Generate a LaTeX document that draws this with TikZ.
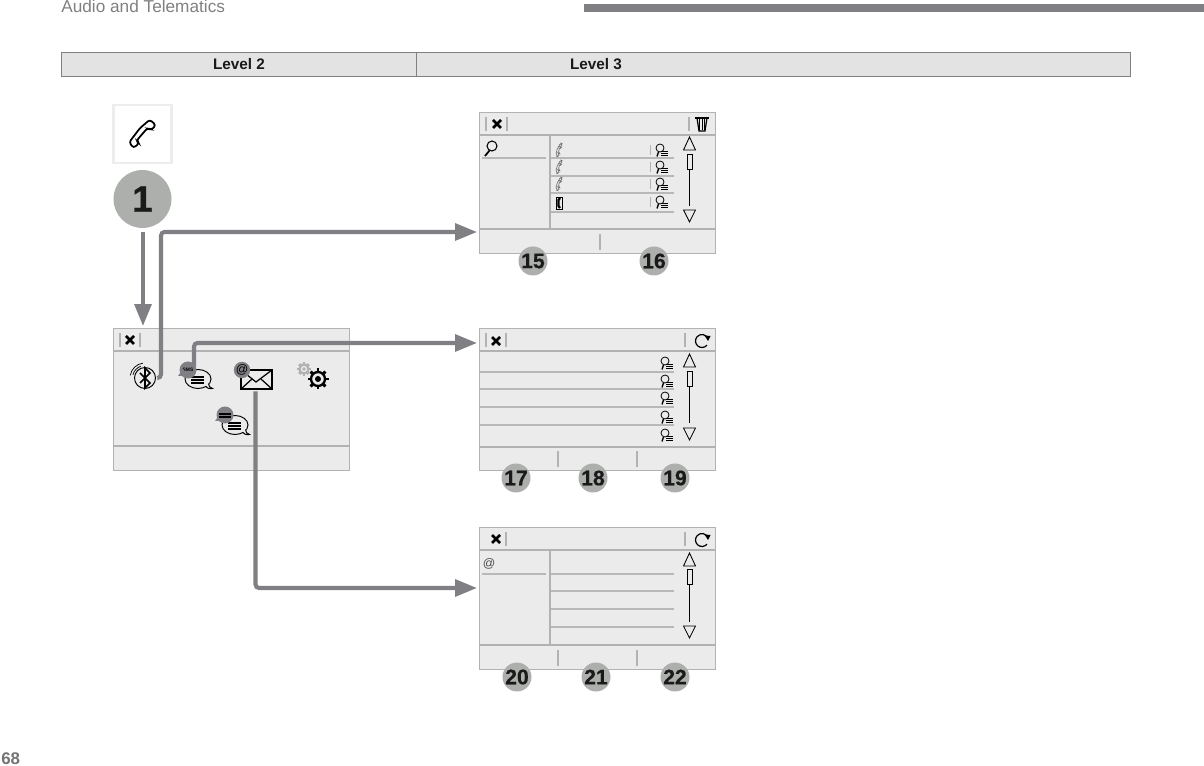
\documentclass[tikz,border=0pt]{standalone}
\usepackage{fontspec}
\setmainfont{Liberation Sans}
\newfontfamily\badgefont[BoldFeatures={FakeBold=0.6}]{Liberation Sans}
\usetikzlibrary{arrows.meta}
\usetikzlibrary{positioning}
\usetikzlibrary{calc}

\definecolor{screenfill}{HTML}{EBEBEB}
\definecolor{screenline}{HTML}{B2B2B2}
\definecolor{rowline}{HTML}{B8B8B8}
\definecolor{flowgray}{HTML}{808084}
\definecolor{badgegray}{HTML}{ADAFAD}
\definecolor{inkdark}{HTML}{1A1A1A}

\tikzset{
  screen/.style={draw=screenline, line width=0.8pt, fill=screenfill, minimum width=235.5*0.02cm, minimum height=142*0.02cm, inner sep=0pt},
  sepline/.style={draw=screenline, line width=0.8pt},
  rowrule/.style={draw=rowline, line width=0.8pt},
  tickline/.style={draw=screenline, line width=0.6pt},
  badge/.style={circle, fill=badgegray, minimum size=29*0.02cm, inner sep=0pt, text=inkdark, font=\badgefont\bfseries\fontsize{12}{12}\selectfont},
  flow/.style={draw=flowgray, line width=2.3pt, rounded corners=2pt, -{Triangle[length=12.5pt, width=9.5pt]}},
  iconbox/.style={minimum size=24*0.02cm, inner sep=0pt},
  headcell/.style={draw=flowgray, line width=0.6pt, fill=black!11, minimum height=24*0.02cm, inner sep=0pt, text=inkdark, font=\bfseries\fontsize{8.7}{8.7}\selectfont},
  icon/.style={draw=black, line width=0.55pt},
  pics/closex/.style={code={
    \draw[black, line width=1.5pt] (-4, -4) -- (4, 4) (-4, 4) -- (4, -4);
  }},
  pics/lensmark/.style={code={
    \draw[black, line width=0.45pt] (-2, -2) circle (4);
    \draw[black, line width=0.8pt] (-3.5, 2) -- (-5, 6.5);
    \foreach \i in {1.5, 3.5, 5.5}{
      \draw[black, line width=0.4pt] (-1, \i) -- (6, \i);
    }
  }},
  pics/handset/.style={code={
    \draw[#1] [rounded corners=1] (1.5, -7) -- (3.5, -6) -- (2, -2.5) -- (0.8, -3) -- (-0.8, 3) -- (0.5, 3.6) -- (-0.5, 7) -- (-3, 6) -- (-2.5, 0.5) -- cycle;
  }},
  pics/refreshmark/.style={code={
    \draw[black, line width=0.7pt] (40:6.5) arc (40:315:6.5);
    \fill[black] (2.5, -5.5) -- (8.5, -5) -- (6, 0) -- cycle;
  }},
  pics/bubble/.style={code={
    \draw[icon] (0, 0) ellipse (13 and 9.5);
    \fill[screenfill] (5, 6) -- (11, 4) -- (11, 8) -- cycle;
    \draw[icon] (10.5, 4.5) .. controls (10.5, 7) and (12, 9) .. (14.5, 9.5) .. controls (11, 10) and (9, 9) .. (7.5, 7.5);
    \foreach \i in {-2, 1, 4}{
      \draw[black, line width=0.85pt] (-7, \i) -- (6, \i);
    }
  }},
  pics/gearmark/.style={code={
    \draw[#1, line width=1.3pt] (0, 0) circle (7);
    \foreach \a in {0, 45, ..., 315}{
      \draw[#1, line width=1.7pt] (\a:7) -- (\a:10.5);
    }
    \fill[#1] (0, 0) circle (3);
  }},
  pics/scrollbar/.style args={#1/#2/#3/#4}{code={
    \draw[black, line width=0.5pt] (-6, #1 + 13) -- (0, #1) -- (6, #1 + 13) -- cycle;
    \draw[black, line width=0.5pt] (-2.5, #2) rectangle (2.5, #2 + 15);
    \draw[black, line width=0.6pt] (0, #2 + 15) -- (0, #3);
    \draw[black, line width=0.5pt] (-6, #4 - 12) -- (0, #4) -- (6, #4 - 12) -- cycle;
  }}
}

\begin{document}
\begin{tikzpicture}[x=0.02cm, y=-0.02cm]
      \useasboundingbox (0, 0) rectangle (1204, 766);

      \node[anchor=base west, text=black!50, font=\fontsize{9.8}{9.8}\selectfont, inner sep=0pt] (chapter) at (61, 13) {Audio and Telematics};
      \fill[flowgray] (584, 4) rectangle (1204, 12);
      \node[anchor=base west, text=black!55, font=\bfseries\fontsize{9.6}{9.6}\selectfont, inner sep=0pt] (pagenum) at (1, 764) {68};

      \node[headcell, minimum width=355*0.02cm, anchor=north west] (levelb) at (61, 52) {Level 2};
      \node[headcell, minimum width=714*0.02cm, anchor=north west] (levelc) at (416, 52) {};
      \node[text=inkdark, font=\bfseries\fontsize{8.7}{8.7}\selectfont, inner sep=0pt] (levelctext) at (596, 64) {Level 3};

      \node[draw=black!7, line width=1.2pt, minimum size=58*0.02cm, inner sep=0pt] (phonekey) at (142.5, 134) {};
      \draw[black, line width=1pt, rounded corners=1.5, shift={(phonekey.center)}] (7.3, -14.3) -- (13.3, -9) -- (9, -4) -- (5, -6) -- (-6, 6.7) -- (-3.3, 9.3) -- (-9, 14) -- (-13.3, 8.3) -- (-2.7, -5.7) -- cycle;
      \node[badge, minimum size=58*0.02cm, font=\badgefont\bfseries\fontsize{21}{21}\selectfont] (keyone) at (142.5, 199) {1};

      \node[screen, anchor=north west] (menu) at (113, 328) {};
      \node[screen, anchor=north west, minimum height=141*0.02cm, minimum width=236*0.02cm] (contacts) at (479, 112) {};
      \node[screen, anchor=north west, minimum width=236*0.02cm] (sms) at (479, 328) {};
      \node[screen, anchor=north west, minimum width=236*0.02cm] (mail) at (479, 527) {};

      \draw[sepline] (113, 351) -- (348.5, 351);
      \draw[sepline] (113, 446) -- (348.5, 446);
      \draw[sepline] (479, 135) -- (715, 135);
      \draw[sepline] (479, 229) -- (715, 229);
      \draw[sepline] (550, 135) -- (550, 229);
      \draw[sepline] (479, 351) -- (715, 351);
      \draw[sepline] (479, 447) -- (715, 447);
      \draw[sepline] (479, 550) -- (715, 550);
      \draw[sepline] (479, 645) -- (715, 645);
      \draw[sepline] (550, 550) -- (550, 645);

      \foreach \i in {158, 176, 193, 212}{
        \draw[rowrule] (551, \i) -- (674, \i);
      }
      \draw[rowrule] (482, 158) -- (546, 158);
      \foreach \i in {372, 389, 407, 425}{
        \draw[rowrule] (480, \i) -- (674, \i);
      }
      \foreach \i in {574, 591, 609, 627}{
        \draw[rowrule] (551, \i) -- (674, \i);
      }
      \draw[rowrule] (482, 574) -- (546, 574);

      \foreach \i in {120, 140}{
        \draw[tickline] (\i, 333) -- (\i, 347);
      }
      \foreach \i in {486, 507, 689}{
        \draw[tickline] (\i, 117) -- (\i, 131);
      }
      \foreach \i in {486, 506, 685}{
        \draw[tickline] (\i, 333) -- (\i, 347);
      }
      \foreach \i in {506, 685}{
        \draw[tickline] (\i, 532) -- (\i, 546);
      }
      \draw[tickline] (600, 234) -- (600, 250);
      \foreach \i in {558, 637}{
        \draw[tickline] (\i, 451) -- (\i, 467);
        \draw[tickline] (\i, 650) -- (\i, 666);
      }

      \pic at (130, 340) {closex};
      \pic at (497, 124) {closex};
      \pic at (496, 341) {closex};
      \pic at (496, 539) {closex};

      \draw[black, line width=0.7pt] (695, 118) -- (709, 118);
      \draw[black, line width=0.7pt] (697, 118) -- (699, 131) -- (705, 131) -- (707, 118);
      \foreach \i in {699.5, 702, 704.5}{
        \draw[black, line width=0.5pt] (\i, 119) -- (\i, 130);
      }
      \pic at (702, 341) {refreshmark};
      \pic at (702, 540) {refreshmark};

      \pic at (689.5, 0) {scrollbar={137/154/206/222}};
      \pic at (689.5, 0) {scrollbar={354/371/423/440}};
      \pic at (689.5, 0) {scrollbar={553/569/622/638}};

      \draw[icon, line width=0.6pt] (492, 146) circle (5);
      \draw[icon, line width=1pt] (489.5, 150.5) -- (485, 156);
      \foreach \i in {150, 167, 184}{
        \pic at (559, \i) {handset={draw=black!55, line width=0.4pt}};
      }
      \draw[black, line width=0.4pt] (556, 197) rectangle (562, 209);
      \draw[black, line width=1.3pt] (560, 198) -- (558.5, 200) -- (558.5, 206) -- (560, 208);
      \foreach \i in {150, 167, 184, 202}{
        \draw[tickline] (650.5, \i - 5) -- (650.5, \i + 5);
        \pic at (662, \i) {lensmark};
      }
      \foreach \i in {363, 381, 398, 417, 435}{
        \pic at (667, \i) {lensmark};
      }
      \node[text=black!70, font=\fontsize{7}{7}\selectfont, inner sep=0pt] (mailat) at (489, 564) {@};

      \node[iconbox] (bticon) at (145, 378) {};
      \draw[icon] (bticon.center) circle (10.5);
      \draw[black, line width=0.9pt] (140, 373) -- (150, 383) -- (145, 388) -- (145, 368) -- (150, 373) -- (140, 383);
      \draw[icon, line width=0.4pt] (bticon.center) ++(190:15) arc (190:262:15);
      \draw[icon, line width=0.4pt] (bticon.center) ++(195:12.5) arc (195:250:12.5);

      \node[iconbox] (smsicon) at (198, 379) {};
      \pic at (smsicon.center) {bubble};
      \node[circle, fill=flowgray, minimum size=17*0.02cm, inner sep=0pt, text=black, font=\bfseries\fontsize{2.8}{2.8}\selectfont] (smstag) at (188, 370) {SMS};
      \fill[flowgray] (178, 376) -- (183, 369) -- (188, 376) -- cycle;

      \node[iconbox] (mailicon) at (256, 379) {};
      \draw[icon, line width=0.7pt] (241, 370) rectangle (272, 389);
      \draw[icon, line width=0.7pt] (241, 370) -- (256, 382) -- (272, 370);
      \draw[icon, line width=0.7pt] (241, 389) -- (252, 379) (272, 389) -- (261, 379);
      \node[circle, fill=flowgray, minimum size=15*0.02cm, inner sep=0pt, text=black, font=\fontsize{7}{7}\selectfont] (mailtag) at (242, 370) {@};

      \node[iconbox] (gearicon) at (318, 379) {};
      \pic at (gearicon.center) {gearmark=black};
      \pic[scale=0.65] at (304, 369) {gearmark=black!30};

      \node[iconbox] (chaticon) at (235, 425) {};
      \pic at (chaticon.center) {bubble};
      \node[circle, fill=flowgray, minimum size=17*0.02cm, inner sep=0pt] (chattag) at (225, 415) {};
      \fill[flowgray] (215, 421) -- (220, 414) -- (225, 421) -- cycle;
      \draw[black, line width=0.7pt] (219, 414) -- (231, 414) (219, 417) -- (231, 417);

      \coordinate (turncontacts) at (161, 232);
      \coordinate (incontacts) at (477, 232);
      \coordinate (turnsms) at (194, 343);
      \coordinate (insms) at (477, 343);
      \coordinate (turnmail) at (255.5, 588);
      \coordinate (inmail) at (477, 588);
      \coordinate (keyfoot) at (143, 232);
      \coordinate (menutop) at (143, 326);

      \draw[flow] (keyfoot) -- (menutop);
      \draw[flow] (bticon.east) -| (turncontacts) -- (incontacts);
      \draw[flow] (smsicon.north -| turnsms) -- (turnsms) -- (insms);
      \draw[flow] (mailicon.south -| turnmail) -- (turnmail) -- (inmail);

      \foreach \i/\x/\y in {15/533/261, 16/654/261, 17/516/478, 18/593/478, 19/675/478, 20/517/677, 21/596/677, 22/675/677}{
        \node[badge] (badge\i) at (\x, \y) {\i};
      }
\end{tikzpicture}
\end{document}
